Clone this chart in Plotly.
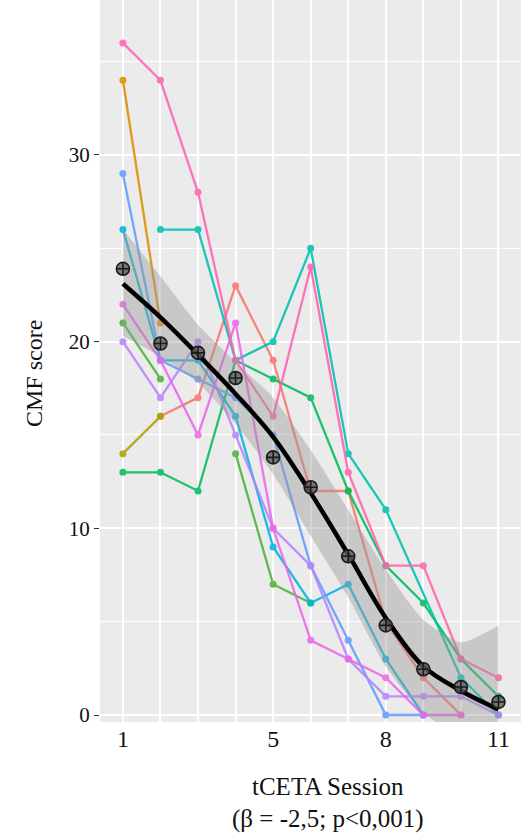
import plotly.graph_objects as go

sessions = [1, 2, 3, 4, 5, 6, 7, 8, 9, 10, 11]
x_tick_labels = ["1", "", "", "", "5", "", "", "8", "", "", "11"]
y_tick_values = [0, 10, 20, 30]

# individual patient CMF scores per session (None = no measurement)
p_salmon  = [None, 16, 17, 23, 19, 12, 12, 5, 2, 0, None]
p_orange  = [34, 21, None, None, None, None, None, None, None, None, None]
p_olive   = [14, 16, None, None, None, None, None, None, None, None, None]
p_green1  = [21, 18, None, 14, 7, 6, None, None, None, None, None]
p_green2  = [13, 13, 12, 19, 18, 17, 12, 8, 6, 3, 1]
p_teal    = [None, 26, 26, 19, 20, 25, 14, 11, None, 2, 0]
p_cyan    = [26, 19, 19, 16, 9, 6, 7, 3, 0, None, None]
p_blue    = [29, 19, 18, 17, 15, 8, 4, 0, 0, None, None]
p_purple  = [20, 17, 20, 15, 10, 8, 3, 1, 1, 1, 0]
p_magenta = [22, 19, 15, 21, 10, 4, 3, 2, 0, 0, None]
p_pink    = [36, 34, 28, 19, 16, 24, 13, 8, 8, 3, 2]

patients = [
    (p_salmon, "#F8766D", True),
    (p_orange, "#DB8E00", True),
    (p_olive, "#AEA200", True),
    (p_green1, "#4DB33A", False),
    (p_green2, "#00BD5C", True),
    (p_teal, "#00C1B0", True),
    (p_cyan, "#00B5E0", True),
    (p_blue, "#619CFF", True),
    (p_purple, "#B983FF", True),
    (p_magenta, "#EB67E8", True),
    (p_pink, "#FF64AE", True),
]

# session means and smoothed fit with confidence band
mean_scores = [23.9, 19.9, 19.4, 18.05, 13.8, 12.2, 8.5, 4.8, 2.45, 1.5, 0.7]
fit_values = [23.1, 21.3, 19.3, 17.2, 14.9, 11.9, 8.6, 5.2, 2.6, 1.3, 0.3]
band_upper = [26.0, 23.5, 20.9, 18.9, 17.0, 14.2, 11.0, 7.8, 5.1, 3.9, 4.8]
band_lower = [20.3, 19.2, 17.8, 15.6, 12.9, 9.6, 6.3, 2.6, 0.1, -1.3, -4.2]

serif = "Liberation Serif, Times New Roman, serif"

fig = go.Figure()

for vals, col, broken in patients:
    fig.add_trace(go.Scatter(
        x=sessions, y=vals, mode="lines+markers",
        line=dict(color=col, width=2.3),
        marker=dict(color=col, size=7),
        opacity=0.88,
        connectgaps=broken,
        showlegend=False, hoverinfo="skip",
    ))

fig.add_trace(go.Scatter(
    x=sessions, y=band_lower, mode="lines",
    line=dict(color="rgba(0,0,0,0)", width=0, shape="spline", smoothing=0.6),
    showlegend=False, hoverinfo="skip",
))
fig.add_trace(go.Scatter(
    x=sessions, y=band_upper, mode="lines",
    line=dict(color="rgba(0,0,0,0)", width=0, shape="spline", smoothing=0.6),
    fill="tonexty", fillcolor="rgba(153,153,153,0.42)",
    showlegend=False, hoverinfo="skip",
))
fig.add_trace(go.Scatter(
    x=sessions, y=fit_values, mode="lines",
    line=dict(color="black", width=4.5, shape="spline"),
    showlegend=False, hoverinfo="skip",
))
fig.add_trace(go.Scatter(
    x=sessions, y=mean_scores, mode="markers",
    marker=dict(symbol="circle-cross", size=13,
                color="rgba(95,95,95,0.8)",
                line=dict(color="#1a1a1a", width=1.6)),
    showlegend=False, hoverinfo="skip",
))

fig.update_layout(
    width=522, height=833,
    margin=dict(l=100, r=1, t=0, b=111),
    paper_bgcolor="white",
    plot_bgcolor="#EBEBEB",
    showlegend=False,
    font=dict(family=serif, color="#111"),
    xaxis=dict(
        range=[0.39, 11.6],
        tickmode="array", tickvals=sessions, ticktext=x_tick_labels,
        showgrid=True, gridcolor="white", gridwidth=1.6,
        zeroline=False, ticks="", showline=False,
        tickfont=dict(family=serif, size=24, color="#111"),
    ),
    yaxis=dict(
        range=[-0.375, 38.3],
        tickmode="array", tickvals=y_tick_values,
        showgrid=True, gridcolor="white", gridwidth=1.6,
        minor=dict(tickvals=[5, 15, 25, 35], showgrid=True,
                   gridcolor="white", gridwidth=0.8, ticks=""),
        zeroline=False, ticks="outside", ticklen=5, tickwidth=1.3,
        tickcolor="#333", showline=False,
        tickfont=dict(family=serif, size=21, color="#111"),
    ),
    annotations=[
        dict(text="tCETA Session", xref="paper", yref="paper",
             x=0.5416, y=-0.09, xanchor="center", yanchor="middle",
             showarrow=False, font=dict(family=serif, size=25, color="#111")),
        dict(text="(β = -2,5; p<0,001)", xref="paper", yref="paper",
             x=0.5416, y=-0.134, xanchor="center", yanchor="middle",
             showarrow=False, font=dict(family=serif, size=25, color="#111")),
        dict(text="CMF score", xref="paper", yref="paper",
             x=-0.155, y=0.483, xanchor="center", yanchor="middle",
             textangle=-90,
             showarrow=False, font=dict(family=serif, size=24, color="#111")),
    ],
)

fig.write_html(
    "out.html",
    config={"displayModeBar": False},
    post_script="document.body.style.margin='0';document.body.style.overflow='hidden';",
)
